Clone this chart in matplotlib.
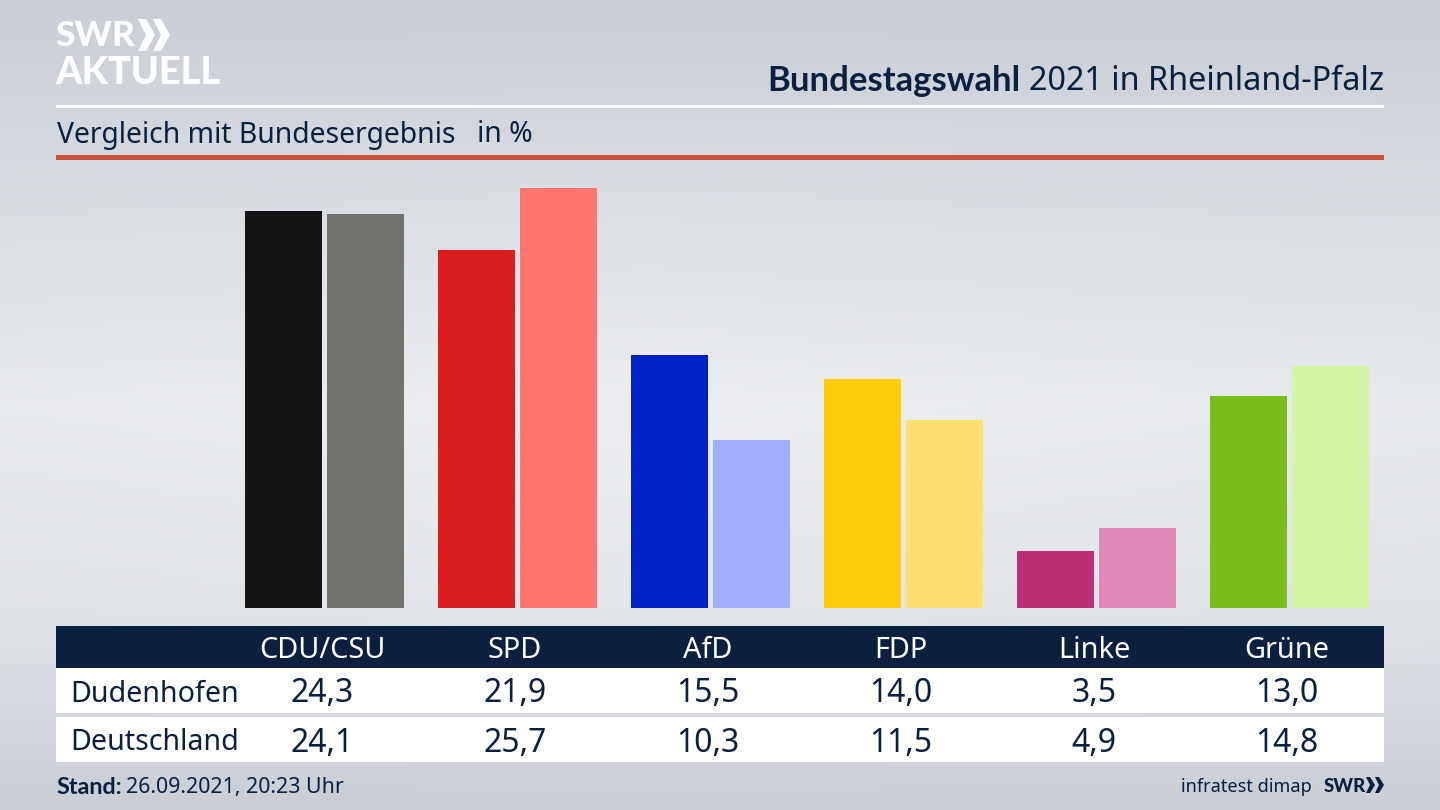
import numpy as np
import matplotlib
matplotlib.use('Agg')
import matplotlib.pyplot as plt
from matplotlib.patches import Rectangle, Polygon
from matplotlib.transforms import blended_transform_factory

# --- Data ---
parties = ['CDU/CSU', 'SPD', 'AfD', 'FDP', 'Linke', 'Grüne']
row_labels = ['Dudenhofen', 'Deutschland']
dudenhofen = [24.3, 21.9, 15.5, 14.0, 3.5, 13.0]
deutschland = [24.1, 25.7, 10.3, 11.5, 4.9, 14.8]
colors_local = ['#141414', '#d81f1d', '#0322c6', '#ffcc0a', '#bb2f76', '#79bd1c']
colors_national = ['#72716e', '#ff7570', '#9fadff', '#ffdf70', '#e088b6', '#d3f5a8']

# --- Config ---
W, H = 1440, 810
NAVY = '#0b1f3f'
BASE_Y = 608
PX_PER_UNIT = 16.34
GROUP_STEP = 193.0
GROUP_0 = 324.5
BAR_W = 77.0
BAR_OFFSET = 41.0
TEXT_SHIFT = -2.5 / GROUP_STEP
plt.rcParams['font.family'] = ['Noto Sans', 'DejaVu Sans']
BOLD = ['Lato', 'DejaVu Sans']

fig = plt.figure(figsize=(W / 100, H / 100), dpi=100)

# pixel canvas for background, header and table
bg = fig.add_axes([0, 0, 1, 1])
bg.set_xlim(0, W)
bg.set_ylim(H, 0)
bg.axis('off')

yy = np.linspace(0, 1, 162)
xx = np.linspace(0, 1, 288)
X, Y = np.meshgrid(xx, yy)
shade = np.interp(Y, [0, 0.5, 0.75, 1], [0.0, 1.0, 0.75, 0.0])
shade = shade * (1 - 0.25 * np.abs(X - 0.45))
top = np.array([202, 206, 213]) / 255
mid = np.array([236, 238, 241]) / 255
img = top[None, None, :] + shade[:, :, None] * (mid - top)[None, None, :]
bg.imshow(img, extent=(0, W, H, 0), aspect='auto', zorder=0)

# header
bg.add_patch(Rectangle((56, 104.5), 1328, 3, fc='white', lw=0, zorder=1))
bg.add_patch(Rectangle((56, 155), 1328, 5, fc='#c8503c', lw=0, zorder=1))
bg.text(1020, 81, 'Bundestagswahl', ha='right', va='center', fontsize=24.9,
        family=BOLD, fontweight='bold', color=NAVY)
bg.text(1384, 81, '2021 in Rheinland-Pfalz', ha='right', va='center', fontsize=23.3, color=NAVY)
bg.text(57, 135, 'Vergleich mit Bundesergebnis', ha='left', va='center', fontsize=20.4, color=NAVY)
bg.text(477, 135, 'in %', ha='left', va='center', fontsize=20.4, color=NAVY)

# logo
bg.text(55, 36, 'SWR', ha='left', va='center', fontsize=25.5, family=BOLD, fontweight='black', color='white')
bg.text(55, 73, 'AKTUELL', ha='left', va='center', fontsize=27.3, family=BOLD, fontweight='black', color='white')
for x0 in (138, 153):
    bg.add_patch(Polygon([(x0, 19), (x0 + 8, 19), (x0 + 17, 35), (x0 + 8, 51), (x0, 51), (x0 + 8, 35)],
                         closed=True, fc='white', lw=0, zorder=2))

# table rows
bg.add_patch(Rectangle((56, 626), 1328, 42, fc=NAVY, lw=0, zorder=1))
bg.add_patch(Rectangle((56, 668), 1328, 45, fc='white', lw=0, zorder=1))
bg.add_patch(Rectangle((56, 717), 1328, 45, fc='white', lw=0, zorder=1))

# bars
ax = fig.add_axes([56 / W, 1 - BASE_Y / H, 1328 / W, 440 / H])
ax.patch.set_alpha(0)
ax.set_xlim((56 - GROUP_0) / GROUP_STEP, (1384 - GROUP_0) / GROUP_STEP)
ax.set_ylim(0, 440 / PX_PER_UNIT)
ax.axis('off')
pos = np.arange(len(parties))
ax.bar(pos - BAR_OFFSET / GROUP_STEP, dudenhofen, BAR_W / GROUP_STEP, color=colors_local, lw=0)
ax.bar(pos + BAR_OFFSET / GROUP_STEP, deutschland, BAR_W / GROUP_STEP, color=colors_national, lw=0)

# table text, x follows the bar groups
trans = blended_transform_factory(ax.transData, bg.transData)
fmt = lambda v: f'{v:.1f}'.replace('.', ',')
for i, name in enumerate(parties):
    cx = i + TEXT_SHIFT
    bg.text(cx, 650, name, transform=trans, ha='center', va='center',
            fontsize=20.8, color='white', zorder=3)
    bg.text(cx, 694, fmt(dudenhofen[i]), transform=trans, ha='center', va='center',
            fontsize=23, color=NAVY, zorder=3)
    bg.text(cx, 743, fmt(deutschland[i]), transform=trans, ha='center', va='center',
            fontsize=23, color=NAVY, zorder=3)
for label, y in zip(row_labels, (694, 742)):
    bg.text(70, y, label, ha='left', va='center', fontsize=20.6, color=NAVY, zorder=3)

# footer
bg.text(56, 787, 'Stand:', ha='left', va='center', fontsize=16.8, family=BOLD, fontweight='bold', color=NAVY)
bg.text(126, 787, '26.09.2021, 20:23 Uhr', ha='left', va='center', fontsize=15.4, color=NAVY)
bg.text(1312, 787, 'infratest dimap', ha='right', va='center', fontsize=13.1, color=NAVY)
bg.text(1324, 786, 'SWR', ha='left', va='center', fontsize=13.5, family=BOLD, fontweight='black', color=NAVY)
for x0 in (1366, 1375):
    bg.add_patch(Polygon([(x0, 777), (x0 + 4, 777), (x0 + 9, 785), (x0 + 4, 793), (x0, 793), (x0 + 4, 785)],
                         closed=True, fc=NAVY, lw=0, zorder=2))

fig.savefig('out.png', dpi=100)
